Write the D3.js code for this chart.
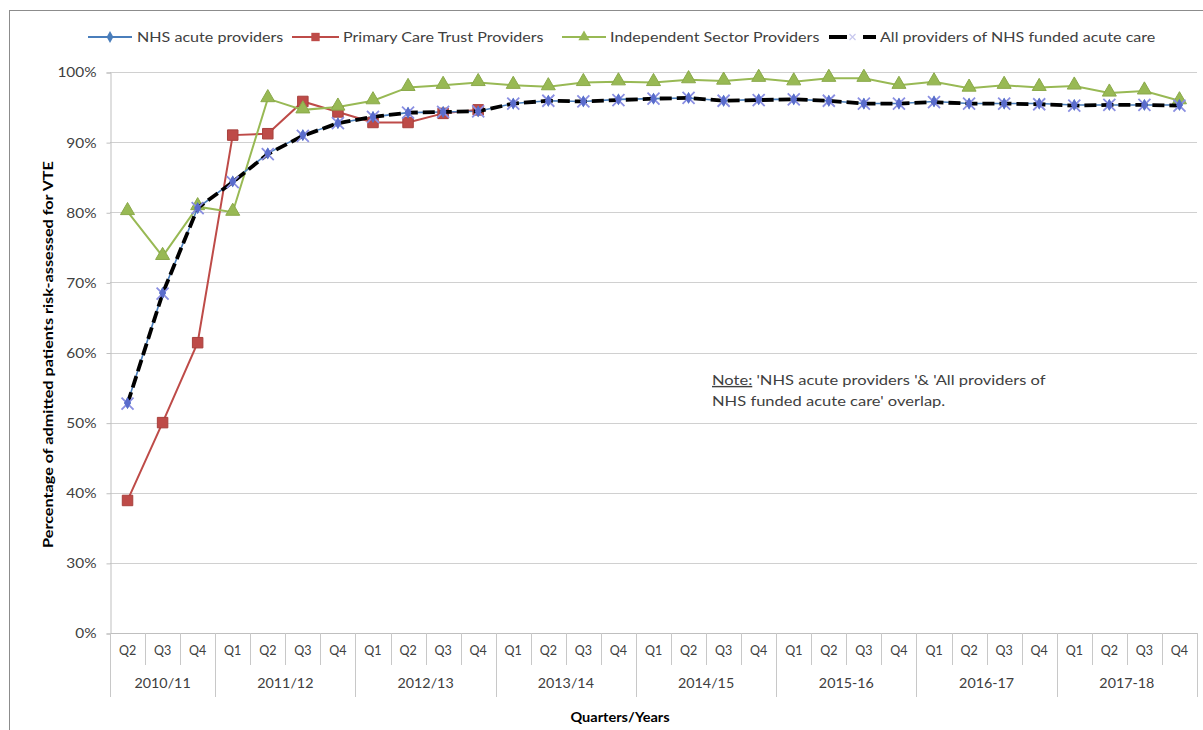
<!DOCTYPE html>
<html>
<head>
<meta charset="utf-8">
<script src="https://cdn.jsdelivr.net/npm/d3@7/dist/d3.min.js"></script>
<style>
  html, body { margin: 0; padding: 0; background: #fff; }
  svg { display: block; font-family: Lato, "Open Sans", sans-serif; }
</style>
</head>
<body>
<svg id="chart" width="1203" height="730"></svg>
<script>
// Financial years and their quarters (first year starts at Q2)
const years = ["2010/11", "2011/12", "2012/13", "2013/14", "2014/15", "2015-16", "2016-17", "2017-18"];
const yearQuarters = [
  ["Q2", "Q3", "Q4"],
  ["Q1", "Q2", "Q3", "Q4"], ["Q1", "Q2", "Q3", "Q4"], ["Q1", "Q2", "Q3", "Q4"],
  ["Q1", "Q2", "Q3", "Q4"], ["Q1", "Q2", "Q3", "Q4"], ["Q1", "Q2", "Q3", "Q4"],
  ["Q1", "Q2", "Q3", "Q4"]
];

// Percentage of admitted patients risk-assessed for VTE, one value per quarter
const nhsAcute = [52.8, 68.5, 80.6, 84.4, 88.4, 91.0, 92.7, 93.6, 94.2, 94.3, 94.4,
  95.5, 95.9, 95.8, 96.1, 96.2, 96.3, 95.9, 96.1, 96.1, 95.9, 95.5,
  95.5, 95.8, 95.5, 95.5, 95.5, 95.3, 95.3, 95.3, 95.3];
const pctProviders = [38.9, 50.0, 61.4, 91.0, 91.2, 95.8, 94.3, 92.8, 92.8, 94.1, 94.6];
const independentSector = [80.1, 73.7, 80.8, 80.0, 96.2, 94.6, 95.0, 95.9, 97.8, 98.1, 98.5,
  98.1, 97.9, 98.5, 98.6, 98.5, 98.9, 98.7, 99.1, 98.6, 99.1, 99.1,
  98.1, 98.6, 97.7, 98.1, 97.8, 98.0, 97.0, 97.3, 95.9];
const allProviders = [52.7, 68.4, 80.6, 84.3, 88.3, 90.9, 92.7, 93.6, 94.2, 94.3, 94.4,
  95.5, 95.9, 95.8, 96.0, 96.2, 96.3, 95.9, 96.0, 96.1, 95.9, 95.5,
  95.5, 95.7, 95.5, 95.5, 95.4, 95.2, 95.3, 95.3, 95.2];

// Value axis: the bottom of the scale is labelled 0%
const yTickValues = [20, 30, 40, 50, 60, 70, 80, 90, 100];
const yTickLabels = ["0%", "30%", "40%", "50%", "60%", "70%", "80%", "90%", "100%"];

const seriesNames = ["NHS acute providers", "Primary Care Trust Providers",
  "Independent Sector Providers", "All providers of NHS funded acute care"];

const noteLines = ["'NHS acute providers '& 'All providers of", "NHS funded acute care' overlap."];

// ---- build categories ----
const cats = [];
yearQuarters.forEach((qs, yi) => qs.forEach(q => cats.push({ id: years[yi] + " " + q, q, yi })));

const svg = d3.select("#chart");
const plotLeft = 110, plotRight = 1197, plotTop = 72, plotBottom = 633;

const x = d3.scaleBand().domain(cats.map(c => c.id)).range([plotLeft, plotRight]).padding(0);
const y = d3.scaleLinear().domain([20, 100]).range([plotBottom, plotTop]);
const cx = i => x(cats[i].id) + x.bandwidth() / 2;

// text in this chart is set slightly wide; stretch a text element horizontally in place
function widen(sel, sx) {
  sel.each(function () {
    const t = d3.select(this);
    const tx = +t.attr("x") || 0, ty = +t.attr("y") || 0;
    const prev = t.attr("transform") || "";
    t.attr("x", 0).attr("y", 0).attr("transform", `${prev} translate(${tx},${ty}) scale(${sx},1)`);
  });
  return sel;
}

// chart area frame
svg.append("rect").attr("x", 9.5).attr("y", 10.5).attr("width", 1210).attr("height", 730)
  .attr("fill", "none").attr("stroke", "#8c8c8c").attr("stroke-width", 1);

// horizontal gridlines
svg.append("g").selectAll("line").data(yTickValues.filter(v => v > 20)).join("line")
  .attr("x1", plotLeft).attr("x2", plotRight)
  .attr("y1", d => Math.round(y(d)) + 0.5).attr("y2", d => Math.round(y(d)) + 0.5)
  .attr("stroke", "#d0d0d0").attr("stroke-width", 1);

// y axis
const yAxis = d3.axisLeft(y).tickValues(yTickValues)
  .tickFormat((d, i) => yTickLabels[i]).tickSize(4).tickPadding(10);
const yg = svg.append("g").attr("transform", `translate(${plotLeft + 0.5},0.5)`).call(yAxis);
yg.select(".domain").attr("stroke", "#bfbfbf");
yg.selectAll(".tick line").attr("stroke", "#bfbfbf");
widen(yg.selectAll(".tick text").attr("font-size", 14).attr("fill", "#404040")
  .attr("font-family", "Lato, sans-serif"), 1.1);

// x axis (quarters)
const xAxis = d3.axisBottom(x).tickFormat((d, i) => cats[i].q).tickSize(0).tickPadding(10);
const xg = svg.append("g").attr("transform", `translate(0,${plotBottom + 0.5})`).call(xAxis);
xg.select(".domain").attr("stroke", "#bfbfbf").attr("d", `M${plotLeft},0H${plotRight}`);
xg.selectAll(".tick text").attr("font-size", 12.5).attr("fill", "#404040")
  .attr("font-family", "Lato, sans-serif").attr("dy", "0.9em");

// quarter separators and year separators
const sepG = svg.append("g").attr("stroke", "#c8c8c8").attr("stroke-width", 1);
cats.forEach((c, i) => {
  const xs = Math.round(x(c.id)) + 0.5;
  const isYearStart = i === 0 || cats[i - 1].yi !== c.yi;
  sepG.append("line").attr("x1", xs).attr("x2", xs)
    .attr("y1", plotBottom).attr("y2", isYearStart ? 697 : 665);
});
sepG.append("line").attr("x1", plotRight + 0.5).attr("x2", plotRight + 0.5)
  .attr("y1", plotBottom).attr("y2", 697);

// year labels
years.forEach((yr, yi) => {
  const idx = cats.map((c, i) => c.yi === yi ? i : -1).filter(i => i >= 0);
  const xm = (x(cats[idx[0]].id) + x(cats[idx[idx.length - 1]].id) + x.bandwidth()) / 2;
  widen(svg.append("text").attr("x", xm).attr("y", 688).attr("text-anchor", "middle")
    .attr("font-size", 13).attr("fill", "#404040").text(yr), 1.1);
});

// axis titles
widen(svg.append("text").attr("x", 620).attr("y", 722).attr("text-anchor", "middle")
  .attr("font-size", 13).attr("font-weight", "bold").attr("fill", "#000").text("Quarters/Years"), 1.12);
svg.append("text")
  .attr("transform", `translate(53,${(plotTop + plotBottom) / 2 + 2}) rotate(-90) scale(1.2,1)`)
  .attr("text-anchor", "middle").attr("font-size", 13.5).attr("font-weight", "bold")
  .attr("fill", "#000").text("Percentage of admitted patients risk-assessed for VTE");

// ---- series ----
const line = d3.line().x((d, i) => cx(i)).y(d => y(d));
const colBlue = "#4a7ebb", colRed = "#be4b48", colGreen = "#98b954";

const plot = svg.append("g");

// Primary Care Trust providers
plot.append("path").datum(pctProviders).attr("d", line)
  .attr("fill", "none").attr("stroke", colRed).attr("stroke-width", 2);
// Independent sector
plot.append("path").datum(independentSector).attr("d", line)
  .attr("fill", "none").attr("stroke", colGreen).attr("stroke-width", 2);
// NHS acute
plot.append("path").datum(nhsAcute).attr("d", line)
  .attr("fill", "none").attr("stroke", colBlue).attr("stroke-width", 1.6);

const sq = d3.symbol().type(d3.symbolSquare).size(110);
const tri = d3.symbol().type(d3.symbolTriangle).size(85);
const dia = d3.symbol().type(d3.symbolDiamond).size(40);
const xMark = "M-6,-6L6,6M-6,6L6,-6";

plot.append("g").selectAll("path").data(pctProviders).join("path")
  .attr("transform", (d, i) => `translate(${cx(i)},${y(d)})`).attr("d", sq)
  .attr("fill", colRed).attr("stroke", "#a8403d").attr("stroke-width", 1);
plot.append("g").selectAll("path").data(independentSector).join("path")
  .attr("transform", (d, i) => `translate(${cx(i)},${y(d) - 1})`).attr("d", tri)
  .attr("fill", colGreen).attr("stroke", "#8aa94a").attr("stroke-width", 1);
plot.append("g").selectAll("path").data(nhsAcute).join("path")
  .attr("transform", (d, i) => `translate(${cx(i)},${y(d)})`).attr("d", dia)
  .attr("fill", colBlue);

// All providers: heavy black dashed line with lavender cross markers
plot.append("path").datum(allProviders).attr("d", line)
  .attr("fill", "none").attr("stroke", "#000").attr("stroke-width", 3.8)
  .attr("stroke-dasharray", "12,5");
plot.append("g").selectAll("path").data(allProviders).join("path")
  .attr("transform", (d, i) => `translate(${cx(i)},${y(d)})`).attr("d", xMark)
  .attr("fill", "none").attr("stroke", "#8a8fe2").attr("stroke-width", 1.8);
plot.append("g").selectAll("path").data(nhsAcute).join("path")
  .attr("transform", (d, i) => `translate(${cx(i)},${y(d)})`).attr("d", dia)
  .attr("fill", "#5a6ccc");

// ---- legend ----
const lg = svg.append("g").attr("font-size", 14).attr("fill", "#404040");
const legendItems = [
  { x0: 88, x1: 132, tx: 137, color: colBlue, kind: "dia" },
  { x0: 292, x1: 339, tx: 343, color: colRed, kind: "sq" },
  { x0: 562, x1: 606, tx: 610, color: colGreen, kind: "tri" },
  { x0: 829, x1: 876, tx: 880, color: "#000", kind: "dash" }
];
const ly = 37;
legendItems.forEach((it, i) => {
  if (it.kind === "dash") {
    lg.append("line").attr("x1", it.x0).attr("x2", it.x0 + 18).attr("y1", ly).attr("y2", ly)
      .attr("stroke", "#000").attr("stroke-width", 4);
    lg.append("path").attr("transform", `translate(${(it.x0 + it.x1) / 2},${ly})`)
      .attr("d", "M-3,-3L3,3M-3,3L3,-3").attr("stroke", "#c8c8ee").attr("stroke-width", 1.2);
    lg.append("line").attr("x1", it.x1 - 13).attr("x2", it.x1).attr("y1", ly).attr("y2", ly)
      .attr("stroke", "#000").attr("stroke-width", 4);
  } else {
    lg.append("line").attr("x1", it.x0).attr("x2", it.x1).attr("y1", ly).attr("y2", ly)
      .attr("stroke", it.color).attr("stroke-width", 2);
    const sym = it.kind === "dia" ? d3.symbol().type(d3.symbolDiamond).size(40)
      : it.kind === "sq" ? d3.symbol().type(d3.symbolSquare).size(70)
      : d3.symbol().type(d3.symbolTriangle).size(55);
    lg.append("path").attr("transform", `translate(${(it.x0 + it.x1) / 2},${ly})`)
      .attr("d", sym).attr("fill", it.color);
  }
  widen(lg.append("text").attr("x", it.tx).attr("y", ly).attr("dy", "0.35em").text(seriesNames[i]), 1.15);
});

// ---- note ----
const note = svg.append("text").attr("x", 712).attr("y", 385).attr("font-size", 14).attr("fill", "#404040");
note.append("tspan").attr("text-decoration", "underline").text("Note:");
note.append("tspan").text(" " + noteLines[0]);
widen(note, 1.18);
widen(svg.append("text").attr("x", 712).attr("y", 406).attr("font-size", 14).attr("fill", "#404040")
  .text(noteLines[1]), 1.18);
</script>
</body>
</html>
